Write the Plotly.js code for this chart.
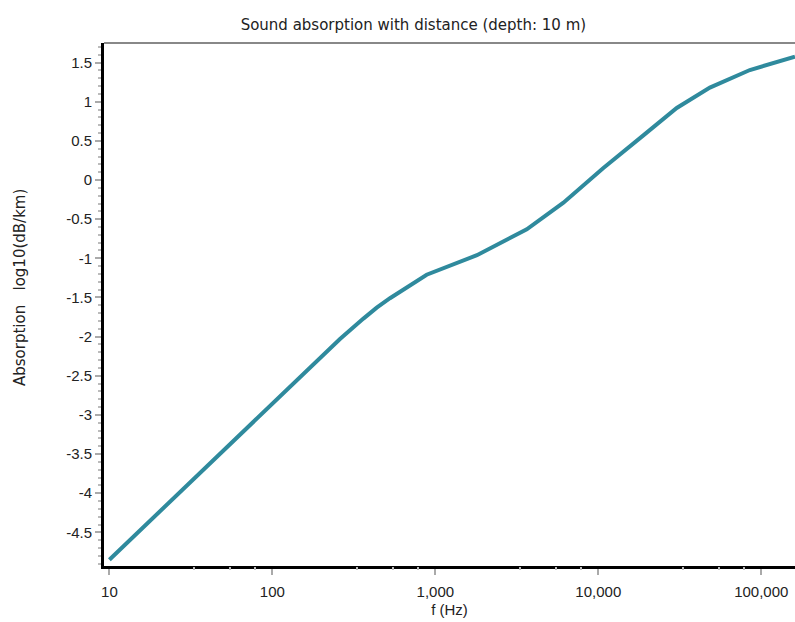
<!DOCTYPE html>
<html>
<head>
<meta charset="utf-8">
<script src="https://cdn.plot.ly/plotly-3.0.1.min.js"></script>
<style>html,body{margin:0;padding:0;background:#fff;}#chart{width:795px;height:622px;}</style>
</head>
<body>
<div id="chart"></div>
<script>
// Frequency (Hz) and absorption log10(dB/km)
const freqHz = [10, 16.2, 24.2, 36, 52.5, 76.6, 111, 163, 260, 362, 437, 527, 885, 1800, 3640, 6110, 10700, 18900, 30300, 48400, 85100, 161000];
const absorption = [-4.85, -4.43, -4.09, -3.75, -3.41, -3.09, -2.77, -2.43, -2.03, -1.77, -1.63, -1.51, -1.21, -0.96, -0.63, -0.29, 0.15, 0.57, 0.92, 1.18, 1.405, 1.575];

const xTickVals = [10, 100, 1000, 10000, 100000];
const xTickText = ["10", "100", "1,000", "10,000", "100,000"];
const xMinorVals = [33, 55, 78, 330, 550, 780, 3300, 5500, 7800, 33000, 55000, 78000];
const yTickVals = [1.5, 1, 0.5, 0, -0.5, -1, -1.5, -2, -2.5, -3, -3.5, -4, -4.5];
const yTickText = ["1.5", "1", "0.5", "0", "-0.5", "-1", "-1.5", "-2", "-2.5", "-3", "-3.5", "-4", "-4.5"];

const font = "Liberation Sans, Arial, sans-serif";
const wide = "DejaVu Sans, Verdana, sans-serif";
const xRange = [0.967, 5.207];

const trace = {
  x: freqHz, y: absorption, type: 'scatter', mode: 'lines',
  line: {color: '#2f8a9d', width: 4, shape: 'linear'},
  hoverinfo: 'skip'
};
// invisible helper on overlay axis so its minor ticks are drawn
const helper = {
  x: [xTickVals[0]], y: [absorption[0]], xaxis: 'x2', type: 'scatter', mode: 'markers',
  marker: {opacity: 0}, hoverinfo: 'skip'
};

const layout = {
  width: 795, height: 622,
  margin: {l: 104, r: 0, t: 43, b: 56},
  paper_bgcolor: '#fff', plot_bgcolor: '#fff',
  showlegend: false,
  font: {family: font, size: 14, color: '#222'},
  title: {text: 'Sound absorption with distance (depth: 10 m)', x: 0.52, xanchor: 'center', y: 0.961, yanchor: 'middle', font: {family: wide, size: 15, color: '#222'}},
  xaxis: {
    type: 'log', range: xRange,
    tickmode: 'array', tickvals: xTickVals, ticktext: xTickText,
    ticks: 'outside', ticklen: 6, tickwidth: 2, tickcolor: '#aaa',
    ticklabelstandoff: 4,
    showline: true, linecolor: '#000', linewidth: 3,
    showgrid: false, zeroline: false,
    tickfont: {family: font, size: 15, color: '#222'},
    title: {text: 'f (Hz)', standoff: 6, font: {family: font, size: 15, color: '#222'}}
  },
  xaxis2: {
    type: 'log', range: xRange, overlaying: 'x', side: 'bottom', anchor: 'y',
    tickmode: 'array', tickvals: xMinorVals, showticklabels: false,
    ticks: 'outside', ticklen: 3, tickwidth: 2, tickcolor: '#bbb',
    showline: false, showgrid: false, zeroline: false
  },
  yaxis: {
    range: [-4.93, 1.75],
    tickmode: 'array', tickvals: yTickVals, ticktext: yTickText,
    ticks: 'outside', ticklen: 6, tickwidth: 2, tickcolor: '#aaa',
    minor: {tickmode: 'linear', tick0: 0, dtick: 0.1, ticks: 'outside', ticklen: 3, tickwidth: 2, tickcolor: '#bbb'},
    showline: true, linecolor: '#000', linewidth: 3,
    showgrid: false, zeroline: false,
    tickfont: {family: font, size: 15, color: '#222'}
  },
  shapes: [
    {type: 'line', xref: 'paper', yref: 'paper', x0: 0, x1: 1, y0: 1, y1: 1, line: {color: '#888', width: 2}}
  ],
  annotations: [
    {text: 'Absorption\u00a0\u00a0\u00a0log10(dB/km)', xref: 'paper', yref: 'paper',
     x: (20 - 104) / 691, y: (566 - 288) / 523, xanchor: 'center', yanchor: 'middle',
     textangle: -90, showarrow: false, font: {family: wide, size: 15, color: '#222'}}
  ]
};

Plotly.newPlot('chart', [trace, helper], layout, {staticPlot: true, displayModeBar: false});
</script>
</body>
</html>
